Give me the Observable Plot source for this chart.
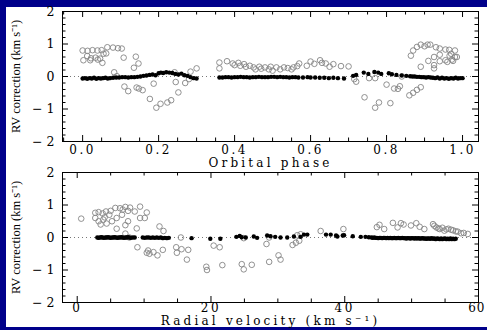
<!DOCTYPE html>
<html><head><meta charset="utf-8">
<script src="https://cdn.jsdelivr.net/npm/d3@7"></script>
<script src="https://cdn.jsdelivr.net/npm/@observablehq/plot@0.6"></script>
<style>
html,body{margin:0;padding:0;background:#00008a;}
#page{position:relative;width:487px;height:330px;background:#00008a;overflow:hidden;}
#sheet{position:absolute;left:6px;top:7px;width:481px;height:320px;background:#fff;}
#sheet svg{position:absolute;left:0;background:transparent;overflow:visible;}
#sheet svg [aria-label="x-axis tick label"] text{font-family:'DejaVu Serif',serif;font-size:12px;letter-spacing:2.5px;}
#sheet svg [aria-label="y-axis tick label"] text{font-family:'DejaVu Serif',serif;font-size:12.5px;}
</style></head><body><div id="page"><div id="sheet"></div></div>
<script>
// ---------- data: top panel (orbital phase vs RV correction) ----------
const topFilled = [[0.000,-0.06],[0.006,-0.05],[0.012,-0.07],[0.018,-0.05],[0.024,-0.06],[0.030,-0.04],[0.036,-0.07],[0.042,-0.05],[0.048,-0.06],[0.054,-0.05],[0.060,-0.04],[0.066,-0.06],[0.072,-0.05],[0.080,-0.04],[0.088,-0.03],[0.096,-0.03],[0.104,-0.02],[0.112,-0.02],[0.120,-0.03],[0.128,-0.02],[0.136,-0.02],[0.144,-0.01],[0.152,0.00],[0.160,0.02],[0.168,0.03],[0.176,0.05],[0.184,0.06],[0.192,0.04],[0.200,0.10],[0.206,0.12],[0.212,0.11],[0.220,0.13],[0.228,0.12],[0.236,0.11],[0.244,0.08],[0.252,0.06],[0.260,0.09],[0.268,0.04],[0.276,0.02],[0.284,-0.02],[0.292,-0.05],[0.300,-0.06],
[0.360,-0.03],[0.368,-0.03],[0.376,-0.02],[0.384,-0.02],[0.392,-0.03],[0.400,-0.02],[0.408,-0.02],[0.416,-0.01],[0.424,-0.02],[0.432,-0.02],[0.440,-0.03],[0.448,-0.02],[0.456,-0.02],[0.464,-0.01],[0.472,-0.02],[0.480,-0.02],[0.488,-0.02],[0.496,-0.01],[0.504,-0.01],[0.512,-0.02],[0.520,-0.01],[0.528,-0.02],[0.536,-0.02],[0.544,-0.03],[0.552,-0.02],[0.560,-0.02],[0.568,-0.03],[0.580,-0.03],[0.592,-0.02],[0.600,-0.03],[0.612,-0.03],[0.624,-0.04],[0.636,-0.04],[0.648,-0.05],[0.660,-0.04],[0.672,-0.05],[0.688,-0.06],
[0.712,0.02],[0.720,0.05],[0.740,0.12],[0.752,0.08],[0.768,0.14],[0.778,0.12],[0.786,0.08],[0.806,0.10],[0.814,0.07],[0.826,0.05],[0.840,0.03],[0.852,0.02],[0.862,0.01],[0.868,0.00],[0.874,0.00],[0.880,-0.01],[0.886,-0.01],[0.892,-0.02],[0.898,-0.02],[0.904,-0.03],[0.910,-0.02],[0.916,-0.03],[0.922,-0.04],[0.928,-0.05],[0.934,-0.03],[0.940,-0.06],[0.946,-0.04],[0.952,-0.06],[0.958,-0.05],[0.964,-0.07],[0.970,-0.05],[0.976,-0.06],[0.982,-0.04],[0.988,-0.06],[0.994,-0.05],[1.000,-0.05]];
const topOpen = [[0.000,0.80],[0.013,0.79],[0.026,0.81],[0.039,0.80],[0.050,0.81],[0.065,0.90],[0.080,0.89],[0.093,0.87],[0.103,0.86],
[0.012,0.63],[0.022,0.56],[0.034,0.58],[0.046,0.55],[0.055,0.70],[0.062,0.71],[0.002,0.50],[0.020,0.50],[0.040,0.52],[0.052,0.42],
[0.083,0.13],[0.090,0.01],[0.108,0.58],[0.140,0.61],[0.135,0.27],[0.147,0.40],
[0.110,-0.31],[0.120,-0.45],[0.148,-0.37],[0.158,-0.42],[0.142,-0.34],[0.177,-0.69],[0.187,-0.22],[0.194,-0.96],[0.205,-0.84],[0.223,-0.80],[0.233,-0.73],[0.252,-0.49],[0.245,-0.17],[0.270,-0.20],[0.242,0.13],[0.284,0.15],[0.280,-0.08],[0.300,0.25],
[0.360,0.43],[0.360,0.25],[0.380,0.47],[0.395,0.40],[0.400,0.35],
[0.410,0.42],[0.415,0.33],[0.425,0.38],[0.430,0.30],[0.440,0.33],[0.450,0.28],[0.455,0.22],[0.465,0.30],[0.470,0.24],[0.480,0.28],[0.490,0.22],[0.495,0.30],[0.500,0.18],[0.510,0.28],[0.520,0.22],[0.530,0.28],[0.540,0.26],[0.550,0.22],[0.555,0.28],[0.565,0.32],[0.570,0.40],[0.590,0.33],[0.600,0.46],[0.610,0.39],[0.625,0.50],[0.630,0.42],[0.640,0.40],[0.650,0.30],[0.660,0.38],[0.680,0.32],[0.700,0.31],
[0.715,-0.08],[0.720,-0.16],[0.742,-0.64],[0.754,-0.05],[0.770,-0.05],[0.770,-0.96],[0.780,-0.80],[0.800,-0.25],[0.810,-0.82],[0.820,-0.37],[0.830,-0.38],[0.840,0.00],[0.835,-0.30],[0.860,-0.58],[0.870,-0.50],[0.880,-0.41],[0.890,-0.33],
[0.864,0.64],[0.870,0.80],[0.880,0.91],[0.890,0.98],[0.900,0.93],[0.908,0.98],[0.915,0.98],[0.930,0.90],[0.940,0.86],[0.955,0.83],[0.965,0.82],[0.980,0.80],[0.890,0.30],[0.910,0.48],[0.925,0.60],[0.925,0.35],[0.925,0.25],[0.940,0.47],[0.940,0.67],[0.955,0.50],[0.966,0.64],[0.972,0.52],[0.975,0.48],[0.980,0.60],[0.985,0.60],[0.970,0.70],[0.960,0.45]];

// ---------- data: bottom panel (radial velocity vs RV correction) ----------
const botFilled = [[3.0,0.00],[3.2,-0.01],[3.4,0.00],[3.6,0.01],[3.8,0.00],[4.0,-0.01],[4.2,0.00],[4.4,0.00],[4.6,0.01],[4.8,0.00],[5.0,-0.01],[5.2,0.00],[5.4,0.00],[5.6,0.01],[5.8,0.00],[6.0,-0.01],[6.2,0.00],[6.4,0.00],[6.6,0.01],[6.8,0.00],[7.0,-0.01],[7.2,0.00],[7.4,0.00],[7.6,0.01],[7.8,0.00],[8.0,-0.01],[8.3,0.00],[8.6,0.00],
[9.8,0.00],[10.1,-0.01],[10.4,0.00],[10.7,0.00],[11.0,-0.01],[11.3,0.00],[11.6,-0.01],[11.9,0.00],[12.2,-0.01],[12.5,0.00],[12.8,-0.02],[13.1,-0.01],[13.4,-0.02],[13.7,-0.01],
[17.1,-0.02],[19.9,-0.04],[21.4,-0.04],[23.8,0.02],[24.3,0.05],[24.6,0.01],[25.2,0.00],[26.4,0.03],[26.9,-0.01],[28.4,0.06],[28.9,0.04],[29.6,0.02],[30.4,0.00],[31.4,0.00],[32.4,0.03],[33.4,0.02],[33.9,0.09],[34.4,0.09],[37.2,0.09],[37.9,0.09],[38.7,0.06],[38.9,0.03],[39.7,0.06],[39.9,0.07],[41.2,0.04],[42.4,0.02],[43.1,0.02],[43.6,0.01],
[44.0,0.00],[44.2,-0.01],[44.4,0.00],[44.6,-0.01],[44.8,-0.01],[45.0,-0.02],[45.2,-0.01],[45.4,-0.01],[45.6,-0.02],[45.8,-0.01],[46.0,-0.01],[46.2,-0.02],[46.4,-0.01],[46.6,-0.02],[46.8,-0.01],[47.0,-0.02],[47.2,-0.02],[47.4,-0.01],[47.6,-0.02],[47.8,-0.02],[48.0,-0.01],[48.2,-0.02],[48.4,-0.02],[48.6,-0.01],[48.8,-0.02],[49.0,-0.02],[49.2,-0.03],[49.4,-0.02],[49.6,-0.02],[49.8,-0.03],[50.0,-0.02],[50.2,-0.02],[50.4,-0.03],[50.6,-0.02],[50.8,-0.03],[51.0,-0.02],[51.2,-0.03],[51.4,-0.03],[51.6,-0.02],[51.8,-0.03],[52.0,-0.03],[52.2,-0.04],[52.4,-0.03],[52.6,-0.03],[52.8,-0.04],[53.0,-0.02],[53.2,-0.04],[53.4,-0.03],[53.6,-0.05],[53.8,-0.03],[54.0,-0.04],[54.2,-0.05],[54.4,-0.03],[54.6,-0.05],[54.8,-0.04],[55.0,-0.03],[55.2,-0.05],[55.4,-0.04],[55.6,-0.05],[55.8,-0.03],[56.0,-0.05],[56.2,-0.04],[56.4,-0.05],[56.6,-0.04]];
const botOpen = [[0.6,0.58],
[2.7,0.76],[3.2,0.78],[3.8,0.74],[4.3,0.80],[5.0,0.82],[5.7,0.91],[6.4,0.90],[7.2,0.94],[7.9,0.92],[8.6,0.80],[9.4,0.95],[7.6,0.82],[6.8,0.86],[4.8,0.70],
[2.7,0.60],[3.2,0.50],[3.9,0.55],[4.4,0.43],[5.2,0.50],[5.9,0.60],[6.7,0.70],[7.6,0.50],[8.9,0.28],[9.4,0.60],[10.1,0.60],[10.4,0.77],[5.9,0.27],[7.2,0.38],[7.8,0.00],[7.2,0.12],[3.5,0.40],[4.1,0.62],
[12.3,0.34],[12.9,0.20],
[9.0,-0.30],[10.6,-0.40],[10.8,-0.50],[10.4,-0.47],[12.0,-0.55],[11.4,-0.45],[12.8,-0.38],[14.8,-0.30],[14.9,-0.47],[15.6,-0.36],[16.6,-0.38],[16.4,-0.68],[15.5,0.00],[19.3,-0.90],[19.4,-1.00],[20.4,-0.25],[21.3,-0.30],[21.7,-0.85],
[24.9,-0.02],[28.3,-0.20],[28.7,0.00],[30.1,-0.55],[30.4,-0.68],[28.7,-0.75],[24.6,-0.82],[26.1,-0.84],[24.9,-0.98],[32.2,-0.23],[32.7,-0.16],[33.2,-0.10],[32.9,0.07],[33.4,0.10],[36.4,0.20],[39.8,0.26],
[44.8,0.32],[45.2,0.39],[45.9,0.26],[47.2,0.45],[48.4,0.44],[47.9,0.31],[48.8,0.40],[49.9,0.37],[50.7,0.44],[51.2,0.33],[51.9,0.26],[53.2,0.41],[53.7,0.31],[54.2,0.26],[54.9,0.21],[55.5,0.27],[55.9,0.24],[56.6,0.19],[57.4,0.13],[58.4,0.11],[54.0,0.28],[54.6,0.30],[55.2,0.25],[56.2,0.22],[53.4,0.36],[56.9,0.18],[57.8,0.14]];

// ---------- ticks & labels ----------
const yDomain = [-2, 2];
const yMajor = [-2, -1, 0, 1, 2];
const yMinor = [-1.8,-1.6,-1.4,-1.2,-0.8,-0.6,-0.4,-0.2,0.2,0.4,0.6,0.8,1.2,1.4,1.6,1.8];
const topXDomain = [-0.053, 1.042];
const topXMajor = [0, 0.2, 0.4, 0.6, 0.8, 1.0];
const topXMinor = [-0.05,0.05,0.10,0.15,0.25,0.30,0.35,0.45,0.50,0.55,0.65,0.70,0.75,0.85,0.90,0.95];
const botXDomain = [-2.2, 60];
const botXMajor = [0, 20, 40, 60];
const botXMinor = [5,10,15,25,30,35,45,50,55];
const yTitle = "RV correction (km s\u207B\u00B9)";
const topXTitle = "Orbital phase";
const botXTitle = "Radial velocity (km s\u207B\u00B9)";

const W = 481, ML = 56, MR = 9, MT = 4, FH = 130, FW = W - ML - MR;
const MAJ = 6, MIN = 3.5;

// inward-pointing ticks on all four sides, drawn as short rules through the scales
function ticks(xDomain, xMajor, xMinor) {
  const [x0, x1] = xDomain, [y0, y1] = yDomain;
  const ux = (x1 - x0) / FW, uy = (y1 - y0) / FH; // data units per pixel
  const st = {stroke: "#000", strokeWidth: 1};
  const rx = (data, len) => [
    Plot.ruleX(data, {x: d => d, y1: () => y0, y2: () => y0 + len * uy, ...st}),
    Plot.ruleX(data, {x: d => d, y1: () => y1, y2: () => y1 - len * uy, ...st})
  ];
  const ry = (data, len) => [
    Plot.ruleY(data, {y: d => d, x1: () => x0, x2: () => x0 + len * ux, ...st}),
    Plot.ruleY(data, {y: d => d, x1: () => x1, x2: () => x1 - len * ux, ...st})
  ];
  return [...rx(xMajor, MAJ), ...rx(xMinor, MIN), ...ry(yMajor, MAJ), ...ry(yMinor, MIN)];
}

function panel({open, filled, xDomain, xMajor, xMinor, xFmt, xTitle, MB, xPad, titleDy}) {
  const svg = Plot.plot({
    width: W, height: MT + FH + MB, marginLeft: ML, marginRight: MR, marginTop: MT, marginBottom: MB,
    style: "background: transparent; color: #000; font-family: 'DejaVu Serif', serif; font-size: 12px;",
    x: {domain: xDomain},
    y: {domain: yDomain},
    marks: [
      Plot.ruleY([0], {stroke: "#777", strokeDasharray: "1,3"}),
      Plot.dot(open, {x: d => d[0], y: d => d[1], r: 2.8, stroke: "#858585", strokeWidth: 0.9, fill: "none"}),
      Plot.dot(filled, {x: d => d[0], y: d => d[1], r: 2.2, fill: "#000", stroke: "none"}),
      Plot.frame({stroke: "#000", strokeWidth: 1}),
      ...ticks(xDomain, xMajor, xMinor),
      Plot.axisX(xMajor, {anchor: "bottom", tickSize: 0, tickPadding: xPad, tickFormat: xFmt, label: null,
        fontFamily: "DejaVu Serif", fontSize: 12}),
      Plot.axisY(yMajor, {anchor: "left", tickSize: 0, tickPadding: 8, label: null,
        fontFamily: "DejaVu Serif", fontSize: 12.5,
        tickFormat: d => d < 0 ? "\u2212 " + (-d) : String(d)}),
      Plot.text([xTitle], {frameAnchor: "bottom", dy: titleDy, text: d => d, textAnchor: "middle",
        lineAnchor: "middle", fontFamily: "DejaVu Serif", fontSize: 12}),
      Plot.text([yTitle], {frameAnchor: "left", dx: -47, rotate: -90, text: d => d, textAnchor: "middle",
        lineAnchor: "middle", fontFamily: "Liberation Serif", fontSize: 12.5})
    ]
  });
  d3.select(svg).selectAll("text").filter(function() { return this.textContent === xTitle; })
    .style("letter-spacing", "3.2px");
  // keep the right-most tick label inside the page
  d3.select(svg).selectAll('[aria-label="x-axis tick label"] text')
    .filter(function() { return this.textContent === "60"; })
    .attr("text-anchor", "end").attr("dx", 7).style("letter-spacing", "1px");
  return svg;
}

const sheet = document.getElementById("sheet");
const top1 = panel({open: topOpen, filled: topFilled, xDomain: topXDomain, xMajor: topXMajor, xMinor: topXMinor,
  xFmt: d => d.toFixed(1), xTitle: topXTitle, MB: 30, xPad: 4, titleDy: 22});
top1.style.top = "0px";
sheet.appendChild(top1);
const bot1 = panel({open: botOpen, filled: botFilled, xDomain: botXDomain, xMajor: botXMajor, xMinor: botXMinor,
  xFmt: d => String(d), xTitle: botXTitle, MB: 25, xPad: 1, titleDy: 19});
bot1.style.top = "161px";
sheet.appendChild(bot1);
</script></body></html>
